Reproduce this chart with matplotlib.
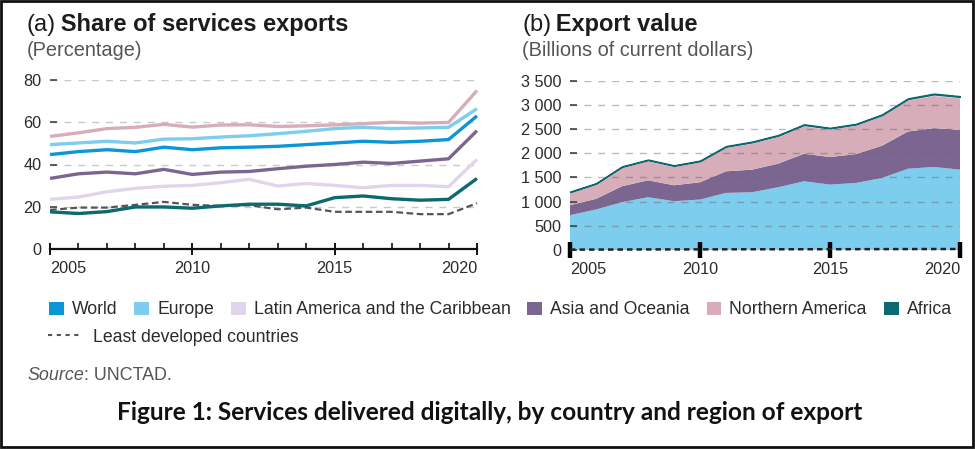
import matplotlib
matplotlib.use("Agg")
import matplotlib.pyplot as plt
from matplotlib.patches import Rectangle, Patch
from matplotlib.lines import Line2D
from matplotlib.ticker import FixedLocator, FuncFormatter

plt.rcParams['font.family'] = ['Liberation Sans', 'DejaVu Sans']

# ---------------- data ----------------
years = list(range(2005, 2021))

# (a) Share of services exports (percentage)
share_world = [44.7, 46.1, 47.0, 46.1, 48.2, 47.0, 47.9, 48.2, 48.6, 49.4, 50.2, 51.0, 50.5, 51.0, 51.8, 63.0]
share_europe = [49.4, 50.2, 51.0, 50.2, 52.0, 52.2, 53.0, 53.6, 54.6, 55.7, 57.0, 57.6, 57.0, 57.3, 57.6, 66.4]
share_latam = [23.5, 24.6, 27.1, 28.7, 29.7, 30.1, 31.4, 33.0, 29.8, 31.0, 30.1, 29.0, 30.1, 30.1, 29.5, 42.4]
share_asia = [33.4, 35.6, 36.4, 35.6, 37.7, 35.3, 36.4, 36.7, 38.0, 39.2, 40.0, 41.1, 40.5, 41.6, 42.7, 56.0]
share_namerica = [53.3, 55.0, 57.0, 57.6, 59.0, 57.7, 58.7, 58.8, 58.0, 58.3, 58.8, 59.3, 60.0, 59.6, 59.9, 75.0]
share_africa = [17.6, 16.8, 17.7, 19.9, 19.9, 19.3, 20.4, 21.2, 21.2, 20.4, 24.3, 25.1, 23.8, 23.1, 23.5, 33.4]
share_ldc = [18.5, 19.6, 19.6, 20.9, 22.3, 20.9, 20.4, 20.7, 18.8, 19.6, 17.6, 17.6, 17.6, 16.5, 16.5, 21.7]

# (b) Export value (billions of current dollars)
value_europe = [720, 837, 988, 1091, 1009, 1043, 1180, 1194, 1297, 1420, 1352, 1386, 1489, 1681, 1716, 1661]
value_asia = [206, 220, 330, 350, 329, 357, 447, 467, 487, 570, 570, 597, 666, 769, 803, 823]
value_namerica = [254, 295, 377, 391, 378, 412, 480, 535, 549, 563, 562, 584, 604, 638, 665, 652]
value_latam = [18, 20, 24, 26, 24, 25, 29, 31, 30, 32, 29, 29, 31, 33, 34, 30]
value_africa = [8, 9, 10, 12, 11, 12, 13, 14, 14, 14, 13, 13, 14, 15, 16, 15]
value_ldc = [8, 9, 10, 12, 12, 13, 14, 15, 15, 16, 16, 17, 18, 19, 20, 20]

xtick_years = [2005, 2010, 2015, 2020]
share_yticks = [0, 20, 40, 60, 80]
value_yticks = [0, 500, 1000, 1500, 2000, 2500, 3000, 3500]

labels = ["World", "Europe", "Latin America and the Caribbean", "Asia and Oceania",
          "Northern America", "Africa"]
ldc_label = "Least developed countries"

# ---------------- style ----------------
c_world = '#0a97d8'
c_europe = '#7ccdee'
c_latam = '#e1d5ec'
c_asia = '#7b6692'
c_namerica = '#d6adb9'
c_africa = '#0d6870'
c_ldc = '#555555'

W, H = 975, 449
fig = plt.figure(figsize=(W / 100, H / 100), dpi=100)


def fx(px):
    return px / W


def fy(py):
    return 1 - py / H


# ---------------- panel (a) ----------------
ax1 = fig.add_axes([fx(50), fy(249), fx(427), 169 / H])
ax1.set_xlim(2005, 2020)
ax1.set_ylim(0, 80)
ax1.grid(axis='y', color='#c9c9c9', linestyle=(0, (5, 5)), linewidth=1.0)
ax1.set_axisbelow(True)
lw = 2.4
ax1.plot(years, share_ldc, color=c_ldc, lw=1.6, linestyle=(0, (3, 1.6)), clip_on=False, zorder=3)
ax1.plot(years, share_latam, color=c_latam, lw=lw, clip_on=False, zorder=3, solid_capstyle='butt')
ax1.plot(years, share_africa, color=c_africa, lw=lw, clip_on=False, zorder=4, solid_capstyle='butt')
ax1.plot(years, share_asia, color=c_asia, lw=lw, clip_on=False, zorder=3, solid_capstyle='butt')
ax1.plot(years, share_world, color=c_world, lw=lw, clip_on=False, zorder=3, solid_capstyle='butt')
ax1.plot(years, share_namerica, color=c_namerica, lw=lw, clip_on=False, zorder=3, solid_capstyle='butt')
ax1.plot(years, share_europe, color=c_europe, lw=lw, clip_on=False, zorder=3, solid_capstyle='butt')

for s in ['top', 'right', 'left']:
    ax1.spines[s].set_visible(False)
ax1.spines['bottom'].set_linewidth(1.6)
ax1.spines['bottom'].set_color('#111111')
ax1.xaxis.set_major_locator(FixedLocator(xtick_years))
ax1.xaxis.set_minor_locator(FixedLocator(years))
ax1.set_xticklabels([str(y) for y in xtick_years])
ax1.tick_params(axis='x', which='major', direction='inout', length=9, width=1.4, color='#111111',
                labelsize=11.7, labelcolor='#2b2b2b', pad=4)
ax1.tick_params(axis='x', which='minor', direction='in', length=4, width=1.2, color='#111111')
ax1.set_yticks(share_yticks)
ax1.set_yticklabels([str(v) for v in share_yticks])
ax1.tick_params(axis='y', direction='in', length=5, width=1.2, color='#444444',
                labelsize=11.7, labelcolor='#2b2b2b', pad=6)
tl = ax1.get_xticklabels()
tl[0].set_ha('left')
tl[-1].set_ha('right')

# ---------------- panel (b) ----------------
ax2 = fig.add_axes([fx(570), fy(250), fx(390), (250 - 80.7) / H])
ax2.set_xlim(2005, 2020)
ax2.set_ylim(0, 3500)
polys = ax2.stackplot(years, value_europe, value_asia, value_namerica, value_latam, value_africa,
                      colors=[c_europe, c_asia, c_namerica, c_latam, c_africa], linewidth=0, zorder=1)
polys[-1].set_edgecolor(c_africa)
polys[-1].set_linewidth(1.0)
ax2.grid(axis='y', color='#666666', alpha=0.45, linestyle=(0, (5, 5)), linewidth=1.0, zorder=2)
ax2.set_axisbelow(False)
ax2.plot(years, value_ldc, color='#222222', lw=1.8, linestyle=(0, (2.2, 1.6)), clip_on=False, zorder=4)
for s in ['top', 'right', 'left', 'bottom']:
    ax2.spines[s].set_visible(False)
ax2.xaxis.set_major_locator(FixedLocator(xtick_years))
ax2.set_xticklabels([str(y) for y in xtick_years])
ax2.tick_params(axis='x', which='major', direction='inout', length=11, width=3.2, color='#000000',
                labelsize=11.7, labelcolor='#2b2b2b', pad=3)
ax2.set_yticks(value_yticks)
ax2.yaxis.set_major_formatter(FuncFormatter(lambda v, p: f"{int(v):,}".replace(",", " ")))
ax2.tick_params(axis='y', direction='in', length=5, width=1.2, color='#444444',
                labelsize=11.7, labelcolor='#2b2b2b', pad=6)
tl2 = ax2.get_xticklabels()
tl2[0].set_ha('left')
tl2[-1].set_ha('right')

# ---------------- titles ----------------
renderer = fig.canvas.get_renderer()


def mixed(x_px, y_px, parts):
    x = fx(x_px)
    for txt, kw in parts:
        t = fig.text(x, fy(y_px), txt, va='center', ha='left', **kw)
        bb = t.get_window_extent(renderer=renderer)
        x = bb.x1 / W
    return x


title_kw = dict(fontsize=17, color='#1c1c1c')
sub_kw = dict(fontsize=14.4, color='#555555')
mixed(27, 25, [("(a)", dict(**title_kw)),
               ("\u2009Share of services exports", dict(fontweight='bold', **title_kw))])
fig.text(fx(27), fy(50), "(Percentage)", va='center', ha='left', **sub_kw)
mixed(522, 25, [("(b)", dict(**title_kw)),
                ("\u2009Export value", dict(fontweight='bold', **title_kw))])
fig.text(fx(522), fy(50), "(Billions of current dollars)", va='center', ha='left', **sub_kw)

# ---------------- legend ----------------
handles = [Patch(facecolor=c, edgecolor='none') for c in
           [c_world, c_europe, c_latam, c_asia, c_namerica, c_africa]]
leg1 = fig.legend(handles, labels, loc='center left', bbox_to_anchor=(fx(49), fy(310)),
                  ncol=6, frameon=False, fontsize=12.7, handlelength=0.85, handleheight=0.75,
                  handletextpad=0.45, columnspacing=0.95, borderpad=0, borderaxespad=0)
for t in leg1.get_texts():
    t.set_color('#2b2b2b')
ldc_handle = Line2D([0], [0], color='#555555', lw=1.5, linestyle=(0, (2, 2.2)))
leg2 = fig.legend([ldc_handle], [ldc_label], loc='center left', bbox_to_anchor=(fx(48), fy(337)),
                  frameon=False, fontsize=12.7, handlelength=1.75, handletextpad=0.8,
                  borderpad=0, borderaxespad=0)
for t in leg2.get_texts():
    t.set_color('#2b2b2b')

# ---------------- source & caption ----------------
mixed(27, 376, [("Source", dict(fontsize=12.9, style='italic', color='#555555')),
                (": UNCTAD.", dict(fontsize=12.9, color='#555555'))])
fig.text(fx(490), fy(413), "Figure 1: Services delivered digitally, by country and region of export",
         ha='center', va='center', fontsize=17.6, fontweight='bold', family=['Lato', 'DejaVu Sans'],
         color='#111111')

# border
fig.patches.append(Rectangle((fx(1), fy(447)), fx(972), (446) / H, transform=fig.transFigure,
                             fill=False, edgecolor='#111111', linewidth=2.0))

fig.savefig("out.png", dpi=100)
